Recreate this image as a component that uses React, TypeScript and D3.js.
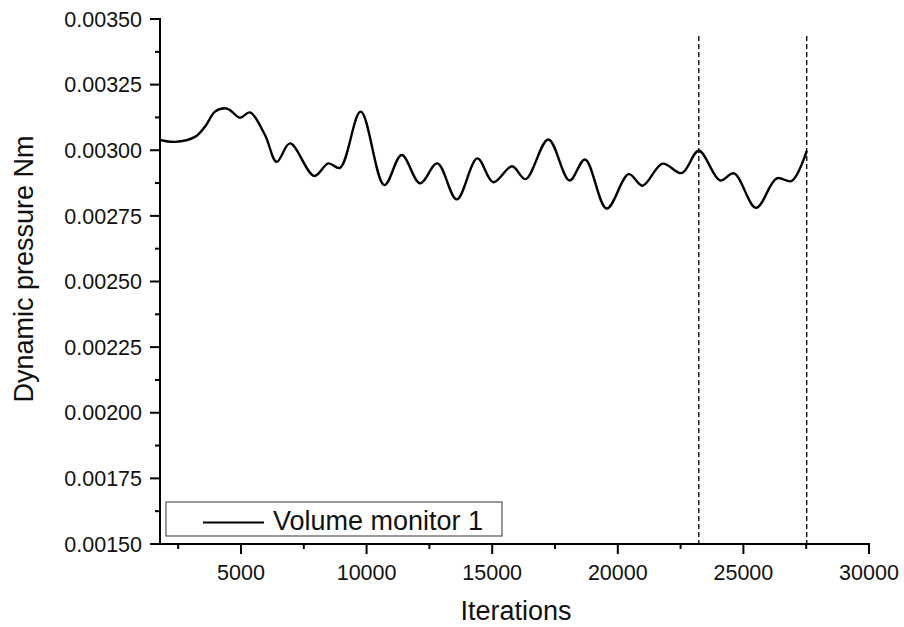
import React from "react";
import * as d3 from "d3";

const iterations = [1776, 2373, 3169, 3567, 3965, 4363, 4562, 4960, 5358, 5956, 6421, 6951, 7918, 8476, 8941, 9765, 10705, 11398, 12126, 12815, 13587, 14407, 15044, 15789, 16326, 17234, 18078, 18695, 19559, 20434, 20984, 21780, 22544, 23225, 24069, 24627, 25502, 26326, 26923, 27521];
const pressure = [0.003039, 0.003032, 0.003051, 0.00309, 0.003147, 0.00316, 0.003153, 0.003124, 0.003144, 0.003058, 0.002956, 0.003026, 0.002902, 0.00295, 0.002933, 0.003147, 0.002867, 0.002982, 0.002874, 0.00295, 0.002813, 0.002969, 0.002878, 0.002939, 0.00289, 0.003041, 0.002885, 0.002965, 0.002778, 0.002909, 0.002865, 0.002949, 0.002913, 0.002998, 0.002885, 0.002912, 0.002781, 0.002893, 0.002883, 0.002998];
const xTicks = [5000, 10000, 15000, 20000, 25000, 30000];
const xMinorTicks = [2500, 7500, 12500, 17500, 22500, 27500];
const yTicks = [0.0015, 0.00175, 0.002, 0.00225, 0.0025, 0.00275, 0.003, 0.00325, 0.0035];
const yMinorTicks = [0.001625, 0.001875, 0.002125, 0.002375, 0.002625, 0.002875, 0.003125, 0.003375];
const markerLines = [23225, 27521];
const seriesName = "Volume monitor 1";
const xTitle = "Iterations";
const yTitle = "Dynamic pressure Nm";

const FONT = "'Liberation Sans', Arial, Helvetica, sans-serif";

export default function App() {
  const W = 904, H = 627;
  const x = d3.scaleLinear().domain([1776, 30000]).range([160, 869]);
  const y = d3.scaleLinear().domain([0.0015, 0.0035]).range([544, 19]);
  const data = iterations.map((it, i) => ({ it, v: pressure[i] }));
  const line = d3
    .line<{ it: number; v: number }>()
    .x((d) => x(d.it))
    .y((d) => y(d.v))
    .curve(d3.curveCatmullRom.alpha(0.5));
  const fmt = d3.format(".5f");
  const x0 = x(1776);
  const yb = y(0.0015);

  return (
    <svg
      width={W}
      height={H}
      style={{ position: "absolute", left: 0, top: 0, background: "#fff" }}
      fontFamily={FONT}
    >
      <rect x={0} y={0} width={W} height={H} fill="#fff" />
      {markerLines.map((m) => (
        <line
          key={m}
          x1={x(m)}
          x2={x(m)}
          y1={y(0.003435)}
          y2={yb}
          stroke="#000"
          strokeWidth={1.3}
          strokeDasharray="5,3"
        />
      ))}
      <path d={line(data) || ""} fill="none" stroke="#000" strokeWidth={2.4} strokeLinejoin="round" />

      <line x1={x0} x2={x0} y1={y(0.0035) - 1} y2={yb + 1} stroke="#000" strokeWidth={2} />
      {yTicks.map((t) => (
        <g key={t}>
          <line x1={x0 - 10} x2={x0} y1={y(t)} y2={y(t)} stroke="#000" strokeWidth={2} />
          <text x={142} y={y(t) + 7.7} textAnchor="end" fontSize={21.5} fill="#111">
            {fmt(t)}
          </text>
        </g>
      ))}
      {yMinorTicks.map((t) => (
        <line key={t} x1={x0 - 5} x2={x0} y1={y(t)} y2={y(t)} stroke="#000" strokeWidth={2} />
      ))}

      <line x1={x0 - 1} x2={x(30000) + 1} y1={yb} y2={yb} stroke="#000" strokeWidth={2} />
      {xTicks.map((t) => (
        <g key={t}>
          <line x1={x(t)} x2={x(t)} y1={yb} y2={yb + 10} stroke="#000" strokeWidth={2} />
          <text x={x(t)} y={580} textAnchor="middle" fontSize={21.5} fill="#111">
            {t}
          </text>
        </g>
      ))}
      {xMinorTicks.map((t) => (
        <line key={t} x1={x(t)} x2={x(t)} y1={yb} y2={yb + 5} stroke="#000" strokeWidth={2} />
      ))}

      <text x={516} y={620} textAnchor="middle" fontSize={27} fill="#111">
        {xTitle}
      </text>
      <text
        transform="translate(33,269) rotate(-90)"
        textAnchor="middle"
        fontSize={27}
        fill="#111"
      >
        {yTitle}
      </text>

      <rect x={166} y={502} width={336} height={34} fill="#fff" stroke="#555" strokeWidth={1.2} />
      <line x1={203} x2={264} y1={522.5} y2={522.5} stroke="#000" strokeWidth={2} />
      <text x={273} y={530} fontSize={27} fill="#111">
        {seriesName}
      </text>
    </svg>
  );
}
